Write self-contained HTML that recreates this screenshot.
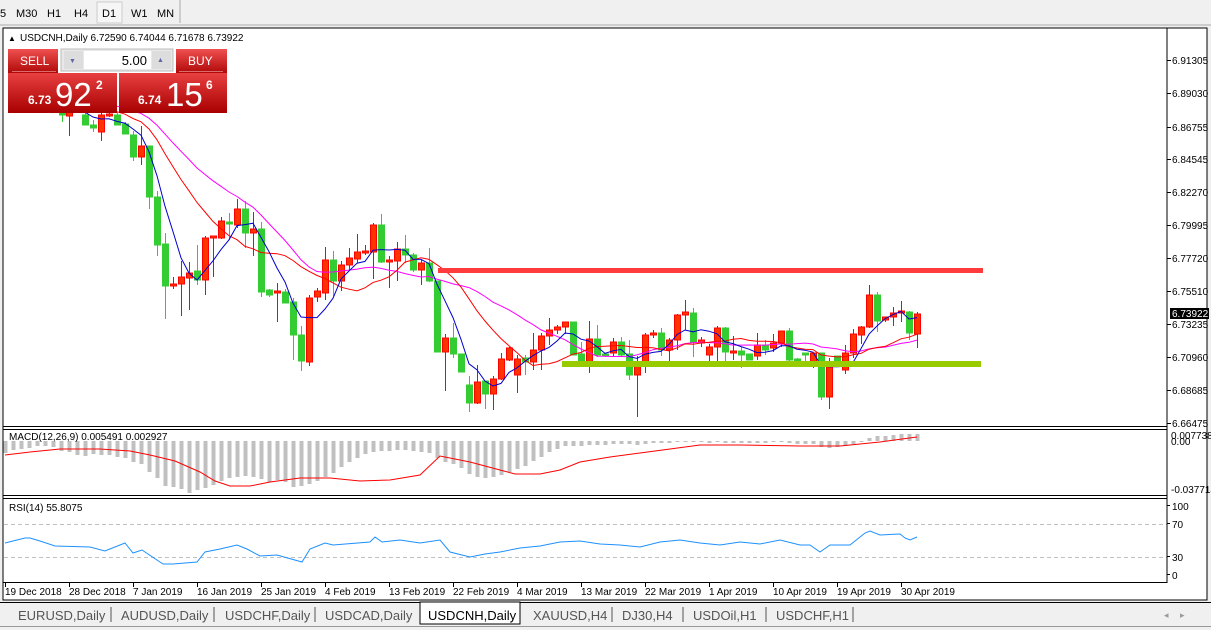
<!DOCTYPE html>
<html><head><meta charset="utf-8"><style>
body{margin:0;width:1211px;height:630px;overflow:hidden;background:#f0f0f0;font-family:"Liberation Sans",sans-serif;}
#c{position:absolute;left:0;top:0}
</style></head><body>
<svg id="c" width="1211" height="630" xmlns="http://www.w3.org/2000/svg" font-family="Liberation Sans, sans-serif">
<rect x="0" y="0" width="1211" height="630" fill="#f0f0f0"/>
<g font-size="11" fill="#000">
<text x="0" y="17">5</text><text x="16" y="17">M30</text><text x="47" y="17">H1</text><text x="74" y="17">H4</text>
<rect x="97" y="2" width="25" height="21" fill="#f6f6f6" stroke="#ccc"/><text x="102" y="17">D1</text>
<text x="131" y="17">W1</text><text x="157" y="17">MN</text>
<line x1="180" y1="0" x2="180" y2="23" stroke="#aaa"/>
</g>
<line x1="0" y1="25" x2="1211" y2="25" stroke="#aaa"/>
<rect x="3" y="28" width="1204" height="572" fill="#fff" stroke="#000"/>
<g id="main"></g>
<g stroke="#000">
<line x1="1167" y1="28" x2="1167" y2="583"/>
<line x1="3" y1="426.5" x2="1167" y2="426.5"/><line x1="3" y1="429.5" x2="1167" y2="429.5"/>
<line x1="3" y1="495.5" x2="1167" y2="495.5"/><line x1="3" y1="498.5" x2="1167" y2="498.5"/>
<line x1="3" y1="582.5" x2="1167" y2="582.5"/>
</g>
<g id="axis" font-size="10" fill="#000"></g>
<rect x="0" y="602" width="1211" height="24" fill="#f0f0f0"/>
<line x1="0" y1="602.5" x2="1211" y2="602.5" stroke="#000"/>
<line x1="0" y1="626.5" x2="1211" y2="626.5" stroke="#999"/>
<g font-size="13" fill="#555">
<text x="18" y="620">EURUSD,Daily</text><line x1="111" y1="607" x2="111" y2="622" stroke="#555"/>
<text x="121" y="620">AUDUSD,Daily</text><line x1="214" y1="607" x2="214" y2="622" stroke="#555"/>
<text x="225" y="620">USDCHF,Daily</text><line x1="315" y1="607" x2="315" y2="622" stroke="#555"/>
<text x="325" y="620">USDCAD,Daily</text>
<rect x="420" y="602" width="100" height="22" fill="#fff" stroke="#000"/>
<text x="428" y="620" fill="#000">USDCNH,Daily</text>
<text x="533" y="620">XAUUSD,H4</text><line x1="612" y1="607" x2="612" y2="622" stroke="#555"/>
<text x="622" y="620">DJ30,H4</text><line x1="683" y1="607" x2="683" y2="622" stroke="#555"/>
<text x="693" y="620">USDOil,H1</text><line x1="766" y1="607" x2="766" y2="622" stroke="#555"/>
<text x="776" y="620">USDCHF,H1</text><line x1="853" y1="607" x2="853" y2="622" stroke="#555"/>
<text x="1164" y="618" font-size="9" fill="#999">◂</text><text x="1180" y="618" font-size="9" fill="#999">▸</text>
</g>
<g font-size="10">
<text x="8" y="41" font-size="8">▲</text>
<text x="20" y="41" fill="#000">USDCNH,Daily  6.72590 6.74044 6.71678 6.73922</text>
</g>
<defs><linearGradient id="rg" x1="0" y1="0" x2="0" y2="1"><stop offset="0" stop-color="#f05050"/><stop offset="1" stop-color="#b00808"/></linearGradient>
<linearGradient id="rg2" x1="0" y1="0" x2="0" y2="1"><stop offset="0" stop-color="#e84040"/><stop offset="1" stop-color="#a80000"/></linearGradient></defs>
<rect x="8" y="49" width="50" height="24" fill="url(#rg)"/>
<line x1="12" y1="71.5" x2="56" y2="71.5" stroke="#fcc" stroke-width="0.6"/>
<text x="20" y="65" font-size="12" fill="#fff">SELL</text>
<rect x="61" y="49" width="112" height="22" fill="#e8e8e8" stroke="#bbb"/>
<rect x="64" y="51" width="19" height="18" fill="#ddd"/><text x="69" y="63" font-size="7" fill="#66a">▼</text>
<rect x="84" y="51" width="67" height="18" fill="#fff"/><text x="147" y="65" font-size="13" text-anchor="end">5.00</text>
<rect x="152" y="51" width="19" height="18" fill="#ddd"/><text x="157" y="62" font-size="7" fill="#66a">▲</text>
<rect x="176" y="49" width="51" height="24" fill="url(#rg)"/>
<line x1="179" y1="71.5" x2="223" y2="71.5" stroke="#fcc" stroke-width="0.6"/>
<text x="188" y="65" font-size="12" fill="#fff">BUY</text>
<rect x="8" y="73" width="109" height="40" fill="url(#rg2)"/>
<rect x="119" y="73" width="108" height="40" fill="url(#rg2)"/>
<text x="28" y="104" font-size="12" font-weight="bold" fill="#fff">6.73</text>
<text x="55" y="106" font-size="33" fill="#fff">92</text>
<text x="96" y="89" font-size="12" font-weight="bold" fill="#fff">2</text>
<text x="138" y="104" font-size="12" font-weight="bold" fill="#fff">6.74</text>
<text x="166" y="106" font-size="33" fill="#fff">15</text>
<text x="206" y="89" font-size="12" font-weight="bold" fill="#fff">6</text>
</svg>
<script>
var NS="http://www.w3.org/2000/svg";
function el(p,t,a,txt){var e=document.createElementNS(NS,t);for(var k in a)e.setAttribute(k,a[k]);if(txt!=null)e.textContent=txt;p.appendChild(e);return e;}
var C=[
[62,'g',108,115,104,122],[69,'r',112,116,104,136],[85,'g',115,125,112,125],[93,'g',125,128,120,132],[101,'r',115,132,112,141],[109,'r',114,116,112,117],[117,'g',115,125,112,125],[125,'g',124,134,122,134],
[133,'g',135,157,131,161],[141,'r',146,157,126,165],[149,'g',146,197,146,209],[157,'g',197,245,191,256],[165,'g',244,286,233,319],[173,'r',284,286,277,289],[181,'r',277,284,261,316],[189,'r',273,278,262,310],[197,'g',271,280,245,285],[205,'r',238,280,236,295],[213,'r',236,238,236,277],[221,'r',221,238,217,239],[229,'g',222,224,213,240],[237,'r',209,225,199,228],[245,'g',209,233,201,248],[253,'r',229,233,212,256],[261,'g',229,292,222,297],[269,'g',290,295,289,297],[277,'r',291,293,283,322],[285,'g',292,303,289,303],[293,'g',302,335,298,360],
[301,'g',335,361,326,371],[309,'r',298,362,295,366],[317,'r',291,297,288,302],[325,'r',260,293,247,300],[333,'g',260,281,251,296],[341,'r',265,281,261,291],[349,'r',258,265,248,270],[357,'r',252,259,234,263],[365,'r',251,253,245,255],[373,'r',225,252,223,279],[381,'g',225,262,214,263],[389,'r',260,262,256,288],[397,'r',249,261,242,281],[405,'g',249,255,235,263],[413,'g',255,270,253,272],[421,'r',263,270,260,285],[429,'g',263,281,248,282],[437,'g',281,352,281,352],[445,'r',338,352,334,391],[453,'g',338,354,323,358],[461,'g',354,372,354,372],[469,'g',385,403,376,412],[477,'r',382,403,365,404],[485,'g',381,394,381,409],[493,'r',379,394,376,410],[501,'r',359,379,353,380],[509,'r',348,360,347,361],[517,'r',359,375,355,393],[525,'g',358,362,355,375],[533,'r',350,362,333,370],[541,'r',336,350,333,370],
[549,'r',330,336,318,345],[557,'r',327,330,325,334],[565,'r',322,327,322,334],[573,'g',322,355,322,355],[581,'g',354,362,342,365],[589,'r',339,362,321,373],[597,'g',339,355,325,357],[605,'g',354,356,353,357],[613,'r',342,353,338,357],[621,'g',342,355,337,357],[629,'g',354,375,340,380],[637,'r',364,375,356,417],[645,'r',335,365,333,373],[653,'r',333,335,330,338],[661,'g',333,350,328,356],[669,'r',340,350,338,362],[677,'r',315,340,314,350],[685,'r',312,315,300,330],[693,'g',313,342,308,357],[701,'r',340,343,337,347],[709,'r',347,355,344,362],[717,'r',328,347,326,362],[725,'g',328,352,327,362],[733,'r',351,353,336,360],[741,'g',351,355,347,368],[749,'g',354,360,354,360],[757,'r',345,356,333,360],[765,'g',345,350,340,355],[773,'r',343,348,334,352],[781,'r',331,343,331,347],[789,'g',331,360,328,367],[797,'g',359,362,358,365],[805,'g',353,355,354,363],[813,'r',353,363,353,368],[821,'g',353,397,353,400],[829,'r',367,397,358,409],[837,'g',356,362,357,363],[845,'r',353,370,345,374],[853,'r',334,353,329,358],[861,'r',327,335,326,344],[869,'r',295,327,285,328],[877,'g',295,321,292,332],[885,'r',317,320,317,322],[893,'r',313,317,307,326],[901,'r',311,313,301,322],[909,'g',312,333,311,340],[917,'r',314,334,312,348]
];
var m=document.getElementById('main');
var closes=C.map(function(c){return c[1]=='r'?c[2]:c[3];});
var pad=[];for(var i=0;i<26;i++)pad.push(85+i*0.8);
var all=pad.concat(closes);
function ma(n,start){var pts=[];for(var i=0;i<C.length;i++){if(C[i][0]<start)continue;var j=i+pad.length,s=0;for(var k=0;k<n;k++)s+=all[j-k];pts.push(C[i][0]+','+(s/n).toFixed(1));}return pts.join(' ');}
C.forEach(function(c){var col=c[1]=='r'?'#ff0000':'#33cc33',fill=c[1]=='r'?'#ff3300':'#33cc33';
el(m,'line',{x1:c[0]+.5,y1:c[4],x2:c[0]+.5,y2:c[5],stroke:col});
var h=Math.max(1,c[3]-c[2]);
el(m,'rect',{x:c[0]-2.5,y:c[2],width:6,height:h,fill:fill,stroke:col,'stroke-width':1});});
el(m,'polyline',{points:ma(21,60),fill:'none',stroke:'#ff00ff','stroke-width':1});
el(m,'polyline',{points:ma(13,60),fill:'none',stroke:'#ff0000','stroke-width':1});
el(m,'polyline',{points:ma(5,60),fill:'none',stroke:'#0000cc','stroke-width':1});
el(m,'rect',{x:438,y:268,width:545,height:5,fill:'#ff3b3b'});
el(m,'rect',{x:562,y:361,width:419,height:6,fill:'#99cc00'});
var H=[[5,453],[13,450],[21,449],[29,448],[37,446],[45,446],[53,447],[61,451],[69,452],[77,455],[85,456],[93,454],[101,455],[109,455],[117,457],[125,458],[133,462],[141,464],[149,472],[157,478],[165,486],[173,487],[181,489],[189,493],[197,490],[205,488],[213,485],[221,481],[229,478],[237,477],[245,476],[253,477],[261,479],[269,482],[277,480],[285,482],[293,487],[301,486],[309,484],[317,481],[325,477],[333,473],[341,467],[349,462],[357,458],[365,454],[373,452],[381,451],[389,451],[397,450],[405,450],[413,451],[421,452],[429,453],[437,458],[445,462],[453,464],[461,468],[469,474],[477,477],[485,478],[493,477],[501,475],[509,472],[517,469],[525,466],[533,461],[541,457],[549,452],[557,449],[565,446],[573,446],[581,446],[589,445],[597,445],[605,445],[613,444],[621,444],[629,444],[637,445],[645,444],[653,443],[661,443],[669,443],[677,442],[685,441],[693,442],[701,442],[709,443],[717,442],[725,443],[733,443],[741,443],[749,443],[757,443],[765,443],[773,442],[781,442],[789,443],[797,444],[805,444],[813,444],[821,447],[829,448],[837,447],[845,446],[853,444],[861,442],[869,438],[877,436],[885,436],[893,435],[901,434],[909,434],[917,434]];
H.forEach(function(h){var y0=441,y=h[1];el(m,'rect',{x:h[0]-1.5,y:Math.min(y0,y),width:4,height:Math.max(1,Math.abs(y-y0)),fill:'#c0c0c0'});});
el(m,'polyline',{points:'5,455 30,452 60,449 100,449 130,451 150,455 175,461 200,472 215,481 230,486 250,486 270,482 300,478 330,478 360,481 390,480 420,475 440,456 470,462 500,470 515,474 540,474 560,470 580,462 610,457 640,453 670,449 700,445 740,445 800,446 840,446 880,442 917,437',fill:'none',stroke:'#ff0000'});
el(m,'text',{x:9,y:440,'font-size':10},'MACD(12,26,9) 0.005491 0.002927');
el(m,'line',{x1:4,y1:524.5,x2:1167,y2:524.5,stroke:'#c0c0c0','stroke-dasharray':'4,3'});
el(m,'line',{x1:4,y1:557.5,x2:1167,y2:557.5,stroke:'#c0c0c0','stroke-dasharray':'4,3'});
el(m,'polyline',{points:'5,543 25,538 30,538 40,541 55,546 90,547 105,551 125,543 133,553 142,550 163,564 173,564 197,562 205,552 220,549 237,545 247,549 260,556 277,555 302,562 310,549 325,543 333,545 370,542 375,537 382,542 400,540 420,543 440,540 450,552 470,557 485,554 500,552 520,548 540,546 560,542 580,541 600,544 620,545 640,547 660,542 680,540 700,543 720,545 740,542 760,544 780,540 800,545 810,545 820,552 830,545 850,545 865,533 870,531 880,535 900,534 905,538 910,540 917,537',fill:'none',stroke:'#1e90ff'});
el(m,'text',{x:9,y:511,'font-size':10},'RSI(14) 55.8075');
var a=document.getElementById('axis');
var P=[['6.91305',60],['6.89030',93],['6.86755',127],['6.84545',159],['6.82270',192],['6.79995',225],['6.77720',258],['6.75510',291],['6.73235',324],['6.70960',357],['6.68685',390],['6.66475',423]];
P.forEach(function(p){el(a,'line',{x1:1167,y1:p[1]+.5,x2:1171,y2:p[1]+.5,stroke:'#000'});el(a,'text',{x:1172,y:p[1]+4},p[0]);});
el(a,'rect',{x:1170,y:308,width:39,height:11,fill:'#000'});
el(a,'text',{x:1172,y:317,fill:'#fff'},'6.73922');
el(a,'text',{x:1171,y:439},'0.007738');el(a,'text',{x:1171,y:445},'0.00');el(a,'text',{x:1171,y:493},'-0.037714');
[['100',510],['70',528],['30',561],['0',579]].forEach(function(t){el(a,'text',{x:1172,y:t[1]},t[0]);el(a,'line',{x1:1167,y1:t[1]-4.5,x2:1170,y2:t[1]-4.5,stroke:'#000'});});
var D=[['19 Dec 2018',5],['28 Dec 2018',69],['7 Jan 2019',133],['16 Jan 2019',197],['25 Jan 2019',261],['4 Feb 2019',325],['13 Feb 2019',389],['22 Feb 2019',453],['4 Mar 2019',517],['13 Mar 2019',581],['22 Mar 2019',645],['1 Apr 2019',709],['10 Apr 2019',773],['19 Apr 2019',837],['30 Apr 2019',901]];
D.forEach(function(d){el(a,'line',{x1:d[1]+.5,y1:583,x2:d[1]+.5,y2:587,stroke:'#000'});el(a,'text',{x:d[1],y:595},d[0]);});
</script>
</body></html>
